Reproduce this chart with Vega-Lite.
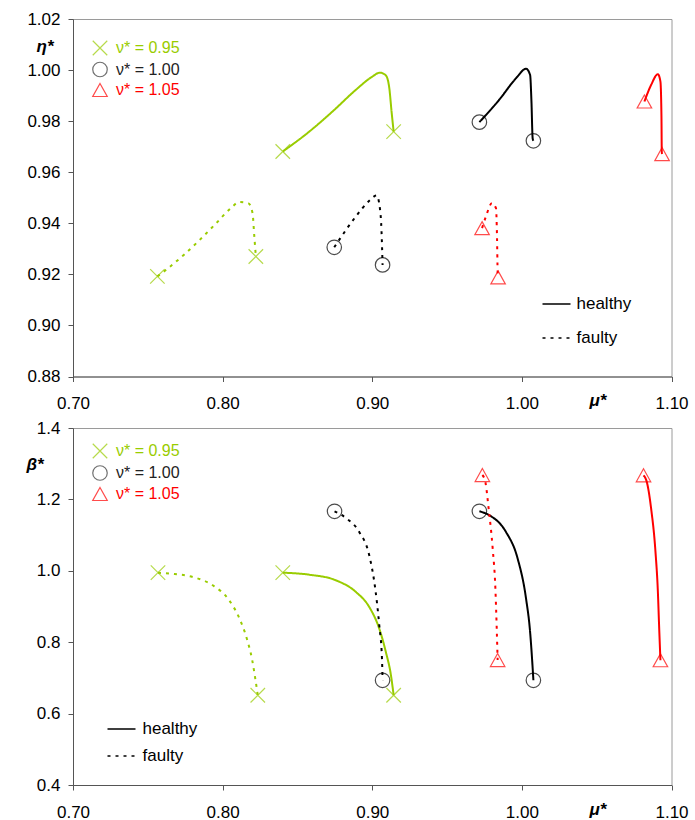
{
  "$schema": "https://vega.github.io/schema/vega-lite/v6.json",
  "padding": {"left": 25, "top": 9, "right": 5, "bottom": 5},
  "config": {
    "font": "Liberation Sans",
    "view": {"stroke": "#9a9a9a", "strokeWidth": 1},
    "axis": {"grid": false, "labelFontSize": 17, "labelColor": "#000", "labelFont": "Liberation Sans", "labelFlush": false, "domainColor": "#555555", "tickColor": "#555555", "tickSize": 5, "labelPadding": 8, "titleFont": "Liberation Sans", "titleFontSize": 17, "titleFontWeight": "bold", "titleFontStyle": "italic", "titleAngle": 0, "titleColor": "#000", "titleAlign": "center", "titleBaseline": "middle"},
    "axisX": {"labelPadding": 14},
    "legend": {"labelFontSize": 16, "labelFont": "Liberation Sans", "orient": "none"}
  },
  "datasets": {
    "top": [
      {"nu": "0.95", "state": "healthy", "i": 0, "mu": 0.8402, "v": 0.9681, "end": 1},
      {"nu": "0.95", "state": "healthy", "i": 1, "mu": 0.8579, "v": 0.9759, "end": 0},
      {"nu": "0.95", "state": "healthy", "i": 2, "mu": 0.8735, "v": 0.9838, "end": 0},
      {"nu": "0.95", "state": "healthy", "i": 3, "mu": 0.8891, "v": 0.9923, "end": 0},
      {"nu": "0.95", "state": "healthy", "i": 4, "mu": 0.9002, "v": 0.9975, "end": 0},
      {"nu": "0.95", "state": "healthy", "i": 5, "mu": 0.9051, "v": 0.9990, "end": 0},
      {"nu": "0.95", "state": "healthy", "i": 6, "mu": 0.9091, "v": 0.9979, "end": 0},
      {"nu": "0.95", "state": "healthy", "i": 7, "mu": 0.9114, "v": 0.9929, "end": 0},
      {"nu": "0.95", "state": "healthy", "i": 8, "mu": 0.9129, "v": 0.9838, "end": 0},
      {"nu": "0.95", "state": "healthy", "i": 9, "mu": 0.9143, "v": 0.9759, "end": 1},
      {"nu": "1.00", "state": "healthy", "i": 0, "mu": 0.9716, "v": 0.9796, "end": 1},
      {"nu": "1.00", "state": "healthy", "i": 1, "mu": 0.9849, "v": 0.9884, "end": 0},
      {"nu": "1.00", "state": "healthy", "i": 2, "mu": 0.9961, "v": 0.9968, "end": 0},
      {"nu": "1.00", "state": "healthy", "i": 3, "mu": 1.0028, "v": 1.0005, "end": 0},
      {"nu": "1.00", "state": "healthy", "i": 4, "mu": 1.0055, "v": 0.9981, "end": 0},
      {"nu": "1.00", "state": "healthy", "i": 5, "mu": 1.0064, "v": 0.9877, "end": 0},
      {"nu": "1.00", "state": "healthy", "i": 6, "mu": 1.0072, "v": 0.9733, "end": 0},
      {"nu": "1.00", "state": "healthy", "i": 7, "mu": 1.0077, "v": 0.9723, "end": 1},
      {"nu": "1.05", "state": "healthy", "i": 0, "mu": 1.0819, "v": 0.9877, "end": 1},
      {"nu": "1.05", "state": "healthy", "i": 1, "mu": 1.0864, "v": 0.9942, "end": 0},
      {"nu": "1.05", "state": "healthy", "i": 2, "mu": 1.0909, "v": 0.9984, "end": 0},
      {"nu": "1.05", "state": "healthy", "i": 3, "mu": 1.0926, "v": 0.9955, "end": 0},
      {"nu": "1.05", "state": "healthy", "i": 4, "mu": 1.0933, "v": 0.9812, "end": 0},
      {"nu": "1.05", "state": "healthy", "i": 5, "mu": 1.0935, "v": 0.9681, "end": 0},
      {"nu": "1.05", "state": "healthy", "i": 6, "mu": 1.0937, "v": 0.9671, "end": 1},
      {"nu": "0.95", "state": "faulty", "i": 0, "mu": 0.7564, "v": 0.9192, "end": 1},
      {"nu": "0.95", "state": "faulty", "i": 1, "mu": 0.7631, "v": 0.9222, "end": 0},
      {"nu": "0.95", "state": "faulty", "i": 2, "mu": 0.7742, "v": 0.9277, "end": 0},
      {"nu": "0.95", "state": "faulty", "i": 3, "mu": 0.7847, "v": 0.9335, "end": 0},
      {"nu": "0.95", "state": "faulty", "i": 4, "mu": 0.7950, "v": 0.9396, "end": 0},
      {"nu": "0.95", "state": "faulty", "i": 5, "mu": 0.8055, "v": 0.9459, "end": 0},
      {"nu": "0.95", "state": "faulty", "i": 6, "mu": 0.8110, "v": 0.9483, "end": 0},
      {"nu": "0.95", "state": "faulty", "i": 7, "mu": 0.8173, "v": 0.9478, "end": 0},
      {"nu": "0.95", "state": "faulty", "i": 8, "mu": 0.8200, "v": 0.9440, "end": 0},
      {"nu": "0.95", "state": "faulty", "i": 9, "mu": 0.8211, "v": 0.9355, "end": 0},
      {"nu": "0.95", "state": "faulty", "i": 10, "mu": 0.8222, "v": 0.9270, "end": 1},
      {"nu": "1.00", "state": "faulty", "i": 0, "mu": 0.8746, "v": 0.9306, "end": 1},
      {"nu": "1.00", "state": "faulty", "i": 1, "mu": 0.8779, "v": 0.9335, "end": 0},
      {"nu": "1.00", "state": "faulty", "i": 2, "mu": 0.8891, "v": 0.9427, "end": 0},
      {"nu": "1.00", "state": "faulty", "i": 3, "mu": 0.8980, "v": 0.9488, "end": 0},
      {"nu": "1.00", "state": "faulty", "i": 4, "mu": 0.9029, "v": 0.9509, "end": 0},
      {"nu": "1.00", "state": "faulty", "i": 5, "mu": 0.9051, "v": 0.9459, "end": 0},
      {"nu": "1.00", "state": "faulty", "i": 6, "mu": 0.9062, "v": 0.9368, "end": 0},
      {"nu": "1.00", "state": "faulty", "i": 7, "mu": 0.9069, "v": 0.9237, "end": 1},
      {"nu": "1.05", "state": "faulty", "i": 0, "mu": 0.9734, "v": 0.9381, "end": 1},
      {"nu": "1.05", "state": "faulty", "i": 1, "mu": 0.9760, "v": 0.9427, "end": 0},
      {"nu": "1.05", "state": "faulty", "i": 2, "mu": 0.9800, "v": 0.9479, "end": 0},
      {"nu": "1.05", "state": "faulty", "i": 3, "mu": 0.9827, "v": 0.9459, "end": 0},
      {"nu": "1.05", "state": "faulty", "i": 4, "mu": 0.9834, "v": 0.9342, "end": 0},
      {"nu": "1.05", "state": "faulty", "i": 5, "mu": 0.9838, "v": 0.9211, "end": 0},
      {"nu": "1.05", "state": "faulty", "i": 6, "mu": 0.9841, "v": 0.9188, "end": 1}
    ],
    "bottom": [
      {"nu": "0.95", "state": "healthy", "i": 0, "mu": 0.8402, "v": 0.9947, "end": 1},
      {"nu": "0.95", "state": "healthy", "i": 1, "mu": 0.8579, "v": 0.9891, "end": 0},
      {"nu": "0.95", "state": "healthy", "i": 2, "mu": 0.8757, "v": 0.9734, "end": 0},
      {"nu": "0.95", "state": "healthy", "i": 3, "mu": 0.8891, "v": 0.9406, "end": 0},
      {"nu": "0.95", "state": "healthy", "i": 4, "mu": 0.8980, "v": 0.8986, "end": 0},
      {"nu": "0.95", "state": "healthy", "i": 5, "mu": 0.9047, "v": 0.8378, "end": 0},
      {"nu": "0.95", "state": "healthy", "i": 6, "mu": 0.9091, "v": 0.7725, "end": 0},
      {"nu": "0.95", "state": "healthy", "i": 7, "mu": 0.9125, "v": 0.7073, "end": 0},
      {"nu": "0.95", "state": "healthy", "i": 8, "mu": 0.9143, "v": 0.6513, "end": 1},
      {"nu": "0.95", "state": "faulty", "i": 0, "mu": 0.7568, "v": 0.9947, "end": 1},
      {"nu": "0.95", "state": "faulty", "i": 1, "mu": 0.7653, "v": 0.9919, "end": 0},
      {"nu": "0.95", "state": "faulty", "i": 2, "mu": 0.7801, "v": 0.9826, "end": 0},
      {"nu": "0.95", "state": "faulty", "i": 3, "mu": 0.7934, "v": 0.9594, "end": 0},
      {"nu": "0.95", "state": "faulty", "i": 4, "mu": 0.8041, "v": 0.9190, "end": 0},
      {"nu": "0.95", "state": "faulty", "i": 5, "mu": 0.8113, "v": 0.8658, "end": 0},
      {"nu": "0.95", "state": "faulty", "i": 6, "mu": 0.8162, "v": 0.8098, "end": 0},
      {"nu": "0.95", "state": "faulty", "i": 7, "mu": 0.8198, "v": 0.7493, "end": 0},
      {"nu": "0.95", "state": "faulty", "i": 8, "mu": 0.8220, "v": 0.6933, "end": 0},
      {"nu": "0.95", "state": "faulty", "i": 9, "mu": 0.8235, "v": 0.6513, "end": 1},
      {"nu": "1.00", "state": "healthy", "i": 0, "mu": 0.9716, "v": 1.1667, "end": 1},
      {"nu": "1.00", "state": "healthy", "i": 1, "mu": 0.9783, "v": 1.1555, "end": 0},
      {"nu": "1.00", "state": "healthy", "i": 2, "mu": 0.9894, "v": 1.1087, "end": 0},
      {"nu": "1.00", "state": "healthy", "i": 3, "mu": 0.9972, "v": 1.0339, "end": 0},
      {"nu": "1.00", "state": "healthy", "i": 4, "mu": 1.0028, "v": 0.9218, "end": 0},
      {"nu": "1.00", "state": "healthy", "i": 5, "mu": 1.0055, "v": 0.8286, "end": 0},
      {"nu": "1.00", "state": "healthy", "i": 6, "mu": 1.0068, "v": 0.7538, "end": 0},
      {"nu": "1.00", "state": "healthy", "i": 7, "mu": 1.0077, "v": 0.6933, "end": 1},
      {"nu": "1.00", "state": "faulty", "i": 0, "mu": 0.8748, "v": 1.1667, "end": 1},
      {"nu": "1.00", "state": "faulty", "i": 1, "mu": 0.8824, "v": 1.1479, "end": 0},
      {"nu": "1.00", "state": "faulty", "i": 2, "mu": 0.8913, "v": 1.1087, "end": 0},
      {"nu": "1.00", "state": "faulty", "i": 3, "mu": 0.8980, "v": 1.0434, "end": 0},
      {"nu": "1.00", "state": "faulty", "i": 4, "mu": 0.9020, "v": 0.9499, "end": 0},
      {"nu": "1.00", "state": "faulty", "i": 5, "mu": 0.9047, "v": 0.8473, "end": 0},
      {"nu": "1.00", "state": "faulty", "i": 6, "mu": 0.9065, "v": 0.7538, "end": 0},
      {"nu": "1.00", "state": "faulty", "i": 7, "mu": 0.9069, "v": 0.6933, "end": 1},
      {"nu": "1.05", "state": "healthy", "i": 0, "mu": 1.0813, "v": 1.2675, "end": 1},
      {"nu": "1.05", "state": "healthy", "i": 1, "mu": 1.0835, "v": 1.2487, "end": 0},
      {"nu": "1.05", "state": "healthy", "i": 2, "mu": 1.0864, "v": 1.1739, "end": 0},
      {"nu": "1.05", "state": "healthy", "i": 3, "mu": 1.0893, "v": 1.0527, "end": 0},
      {"nu": "1.05", "state": "healthy", "i": 4, "mu": 1.0909, "v": 0.9406, "end": 0},
      {"nu": "1.05", "state": "healthy", "i": 5, "mu": 1.0917, "v": 0.8473, "end": 0},
      {"nu": "1.05", "state": "healthy", "i": 6, "mu": 1.0926, "v": 0.7495, "end": 1},
      {"nu": "1.05", "state": "faulty", "i": 0, "mu": 0.9736, "v": 1.2683, "end": 1},
      {"nu": "1.05", "state": "faulty", "i": 1, "mu": 0.9756, "v": 1.2487, "end": 0},
      {"nu": "1.05", "state": "faulty", "i": 2, "mu": 0.9778, "v": 1.1739, "end": 0},
      {"nu": "1.05", "state": "faulty", "i": 3, "mu": 0.9805, "v": 1.0619, "end": 0},
      {"nu": "1.05", "state": "faulty", "i": 4, "mu": 0.9823, "v": 0.9499, "end": 0},
      {"nu": "1.05", "state": "faulty", "i": 5, "mu": 0.9832, "v": 0.8378, "end": 0},
      {"nu": "1.05", "state": "faulty", "i": 6, "mu": 0.9838, "v": 0.7501, "end": 1}
    ]
  },
  "spacing": 51,
  "bounds": "flush",
  "vconcat": [
    {
      "width": 598.5,
      "height": 357.5,
      "data": {"name": "top"},
      "resolve": {"scale": {"color": "independent"}},
      "layer": [
        {
          "mark": {"type": "line", "interpolate": "monotone", "strokeWidth": 2},
          "encoding": {
            "x": {"field": "mu", "type": "quantitative", "scale": {"domain": [0.7, 1.1], "nice": false, "zero": false}, "axis": {"values": [0.7, 0.8, 0.9, 1.0, 1.1], "format": ".2f", "title": "μ*", "titleX": 524.5, "titleY": 24}},
            "y": {"field": "v", "type": "quantitative", "scale": {"domain": [0.88, 1.02], "nice": false, "zero": false}, "axis": {"values": [0.88, 0.9, 0.92, 0.94, 0.96, 0.98, 1.0, 1.02], "format": ".2f", "title": "η*", "titleX": -28.5, "titleY": 27.5}},
            "color": {"field": "nu", "type": "nominal", "scale": {"domain": ["0.95", "1.00", "1.05"], "range": ["#99CC00", "#000000", "#FF0000"]}, "legend": null},
            "strokeDash": {"field": "state", "type": "nominal", "scale": {"domain": ["healthy", "faulty"], "range": [[1, 0], [3, 5]]}, "legend": {"title": null, "legendX": 468.5, "legendY": 270, "symbolType": "stroke", "symbolSize": 784, "symbolStrokeColor": "#000", "symbolStrokeWidth": 1.5, "rowPadding": 11, "labelOffset": 5, "labelFontSize": 17}},
            "order": {"field": "i", "type": "quantitative"}
          }
        },
        {
          "transform": [{"filter": "datum.end == 1"}],
          "mark": {"type": "point", "filled": false, "strokeWidth": 1.2, "size": 210},
          "encoding": {
            "x": {"field": "mu", "type": "quantitative"},
            "y": {"field": "v", "type": "quantitative"},
            "color": {"field": "nu", "type": "nominal", "scale": {"domain": ["0.95", "1.00", "1.05"], "range": ["#99CC00", "#000000", "#FF0000"]}, "legend": null},
            "shape": {"field": "nu", "type": "nominal", "scale": {"domain": ["0.95", "1.00", "1.05"], "range": ["M-1,-1L1,1M1,-1L-1,1", "circle", "M0,-0.9L1,0.9L-1,0.9Z"]}, "legend": {"title": null, "legendX": 19, "legendY": 21, "labelExpr": "'ν* =  ' + datum.label", "labelColor": {"expr": "datum.value === '0.95' ? '#99CC00' : datum.value === '1.05' ? '#FF0000' : '#222222'"}, "symbolStrokeColor": {"expr": "datum.value === '0.95' ? '#99CC00' : datum.value === '1.05' ? '#FF0000' : '#333333'"}, "symbolFillColor": "transparent", "symbolSize": 210, "symbolStrokeWidth": 1.2, "rowPadding": 1.5, "labelOffset": 8}}
          }
        }
      ]
    },
    {
      "width": 598.5,
      "height": 357,
      "data": {"name": "bottom"},
      "resolve": {"scale": {"color": "independent"}},
      "layer": [
        {
          "mark": {"type": "line", "interpolate": "monotone", "strokeWidth": 2},
          "encoding": {
            "x": {"field": "mu", "type": "quantitative", "scale": {"domain": [0.7, 1.1], "nice": false, "zero": false}, "axis": {"values": [0.7, 0.8, 0.9, 1.0, 1.1], "format": ".2f", "title": "μ*", "titleX": 524.5, "titleY": 24}},
            "y": {"field": "v", "type": "quantitative", "scale": {"domain": [0.4, 1.4], "nice": false, "zero": false}, "axis": {"values": [0.4, 0.6, 0.8, 1.0, 1.2, 1.4], "format": ".1f", "title": "β*", "titleX": -38.5, "titleY": 36}},
            "color": {"field": "nu", "type": "nominal", "scale": {"domain": ["0.95", "1.00", "1.05"], "range": ["#99CC00", "#000000", "#FF0000"]}, "legend": null},
            "strokeDash": {"field": "state", "type": "nominal", "scale": {"domain": ["healthy", "faulty"], "range": [[1, 0], [3, 5]]}, "legend": {"title": null, "legendX": 33.5, "legendY": 286, "symbolType": "stroke", "symbolSize": 784, "symbolStrokeColor": "#000", "symbolStrokeWidth": 1.5, "rowPadding": 4, "labelOffset": 6, "labelFontSize": 17}},
            "order": {"field": "i", "type": "quantitative"}
          }
        },
        {
          "transform": [{"filter": "datum.end == 1"}],
          "mark": {"type": "point", "filled": false, "strokeWidth": 1.2, "size": 210},
          "encoding": {
            "x": {"field": "mu", "type": "quantitative"},
            "y": {"field": "v", "type": "quantitative"},
            "color": {"field": "nu", "type": "nominal", "scale": {"domain": ["0.95", "1.00", "1.05"], "range": ["#99CC00", "#000000", "#FF0000"]}, "legend": null},
            "shape": {"field": "nu", "type": "nominal", "scale": {"domain": ["0.95", "1.00", "1.05"], "range": ["M-1,-1L1,1M1,-1L-1,1", "circle", "M0,-0.9L1,0.9L-1,0.9Z"]}, "legend": {"title": null, "legendX": 19, "legendY": 15, "labelExpr": "'ν* =  ' + datum.label", "labelColor": {"expr": "datum.value === '0.95' ? '#99CC00' : datum.value === '1.05' ? '#FF0000' : '#222222'"}, "symbolStrokeColor": {"expr": "datum.value === '0.95' ? '#99CC00' : datum.value === '1.05' ? '#FF0000' : '#333333'"}, "symbolFillColor": "transparent", "symbolSize": 210, "symbolStrokeWidth": 1.2, "rowPadding": 2, "labelOffset": 8}}
          }
        }
      ]
    }
  ],
  "resolve": {
    "scale": {"x": "independent", "y": "independent", "color": "independent", "shape": "independent", "strokeDash": "independent"},
    "legend": {"color": "independent", "shape": "independent", "strokeDash": "independent"}
  }
}
